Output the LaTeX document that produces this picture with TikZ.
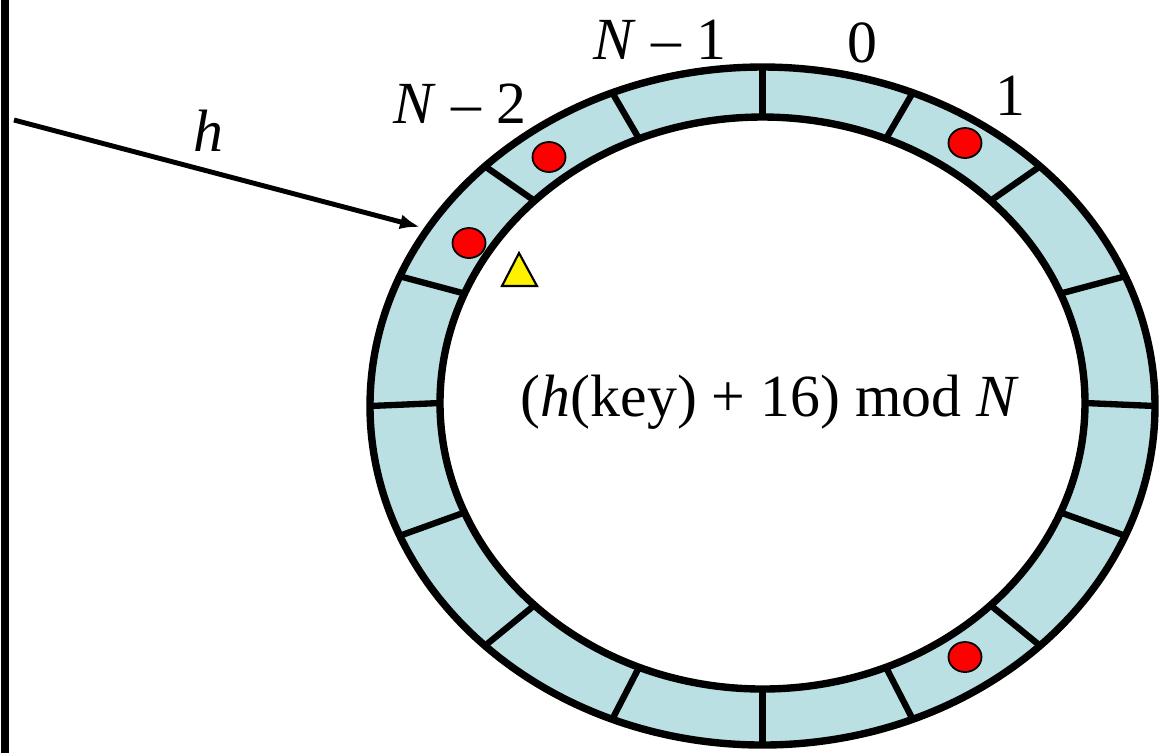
\documentclass[tikz,border=0pt]{standalone}
\usepackage{fontspec}
\setmainfont{Liberation Serif}
\usetikzlibrary{calc,shapes.geometric,arrows.meta}
\definecolor{ringblue}{RGB}{186,224,227}
\begin{document}
\begin{tikzpicture}[x=0.01cm, y=-0.01cm, every node/.style={font=\fontsize{17}{20}\selectfont, inner sep=0pt}]
  \tikzstyle{rim}=[line width=2.1pt]
  \tikzstyle{sep}=[line width=1.8pt]
  \tikzstyle{dot}=[draw, ellipse, fill=red, line width=0.5pt, minimum width=0.33cm, minimum height=0.30cm]
  \tikzstyle{lbl}=[anchor=base]
  \useasboundingbox (0,0) rectangle (1163,753);
  \coordinate (oc) at (762.5,406);
  \coordinate (ic) at (762.5,403);
  \fill[ringblue, even odd rule] (oc) ellipse [x radius=392.5, y radius=339] (ic) ellipse [x radius=322.5, y radius=286];
  \foreach \a in {0,22.5,...,337.5}
    \draw[sep] ($(ic)+(\a:322.5 and 286)$) -- ($(oc)+(\a:392.5 and 339)$);
  \draw[rim] (oc) ellipse [x radius=392.5, y radius=339];
  \draw[rim] (ic) ellipse [x radius=322.5, y radius=286];
  \node[dot] (d1) at (549,157) {};
  \node[dot] (d2) at (469,243) {};
  \node[dot] (d3) at (965,143) {};
  \node[dot] (d4) at (965,657) {};
  \draw[fill=yellow, line width=0.6pt] (502,286) -- (519,253) -- (537,286) -- cycle;
  \node[lbl] (nm1) at (660,59) {\textit{N} – 1};
  \node[lbl] (n0) at (862,62) {0};
  \node[lbl] (n1) at (1010,115) {1};
  \node[lbl] (nm2) at (460,123) {\textit{N} – 2};
  \node[lbl] (expr) at (770,416) {(\textit{h}(key) + 16) mod \textit{N}};
  \draw[line width=2.2pt] (5,0) -- (5,753);
  \coordinate (src) at (14,120);
  \coordinate (hit) at (420,227);
  \draw[line width=1.4pt, -{Latex[length=0.2cm, width=0.15cm]}] (src) -- (hit) node[pos=0.48, lbl, yshift=0.2cm] {\textit{h}};
\end{tikzpicture}
\end{document}
